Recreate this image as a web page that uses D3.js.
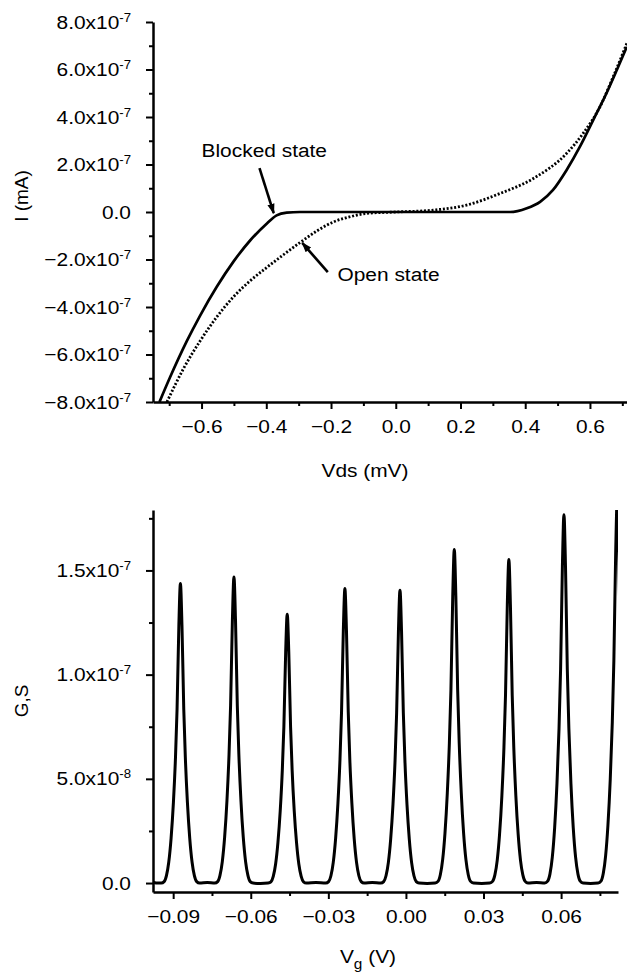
<!DOCTYPE html>
<html><head><meta charset="utf-8">
<script src="https://cdn.jsdelivr.net/npm/d3@7"></script>
<style>
body{margin:0;background:#fff}
svg text{font-family:"Liberation Sans",Arial,sans-serif;fill:#000;font-size:19px}
.sx{transform-box:fill-box;transform:scaleX(1.1)}
.sxr{transform-origin:right center}
.sxc{transform-origin:center}
.sxl{transform-origin:left center}
.domain{stroke:#000;stroke-width:2.5px}
.tick line{stroke:#000;stroke-width:2px}
</style></head><body><svg id="c" width="627" height="974"></svg>
<script>
// ---------- TOP PANEL DATA ----------
const blockedV = [-0.730,-0.697,-0.646,-0.604,-0.553,-0.502,-0.450,-0.398,-0.368,-0.337,-0.296,-0.2,0,0.2,0.353,0.405,0.446,0.486,0.528,0.569,0.610,0.651,0.683,0.714];
const blockedI = [-8.0,-6.95,-5.45,-4.35,-3.15,-2.10,-1.20,-0.48,-0.14,-0.03,0,0,0,0,0,0.16,0.43,0.93,1.77,2.75,3.87,5.0,5.98,6.96]; // x1e-7 mA
const openV = [-0.707,-0.656,-0.604,-0.553,-0.502,-0.450,-0.398,-0.347,-0.296,-0.244,-0.193,-0.141,-0.090,0,0.116,0.219,0.322,0.425,0.528,0.579,0.631,0.672,0.714];
const openI = [-8.0,-6.60,-5.42,-4.42,-3.58,-2.90,-2.33,-1.80,-1.29,-0.80,-0.42,-0.20,-0.06,0,0.08,0.29,0.78,1.41,2.47,3.31,4.43,5.70,7.1]; // x1e-7 mA

const topXTicks = [-0.6,-0.4,-0.2,0,0.2,0.4,0.6];
const topXLabels = ["\u22120.6","\u22120.4","\u22120.2","0.0","0.2","0.4","0.6"];
const topXMinor = [-0.7,-0.5,-0.3,-0.1,0.1,0.3,0.5,0.7];
const topYTicks = [8e-7,6e-7,4e-7,2e-7,0,-2e-7,-4e-7,-6e-7,-8e-7];
const topYMant = ["8.0x10","6.0x10","4.0x10","2.0x10","0.0","\u22122.0x10","\u22124.0x10","\u22126.0x10","\u22128.0x10"];
const topYExp = ["-7","-7","-7","-7","","-7","-7","-7","-7"];
const topYMinor = [7e-7,5e-7,3e-7,1e-7,-1e-7,-3e-7,-5e-7,-7e-7];

// annotations (data coords): text anchor point, arrow tail, arrow tip
const annLabels = ["Blocked state","Open state"];
const annText = [[-0.600,2.32e-7],[-0.180,-2.90e-7]];
const annTail = [[-0.421,1.85e-7],[-0.210,-2.53e-7]];
const annTip  = [[-0.377,-0.05e-7],[-0.289,-1.30e-7]];

// ---------- BOTTOM PANEL DATA ----------
const vg = [-0.0975,-0.0960,
 -0.0946,-0.0935,-0.0926,-0.0917,-0.0908,-0.0899,-0.0891,-0.0885,-0.0878,-0.0872,-0.0866,-0.0859,-0.0853,-0.0845,-0.0836,-0.0827,-0.0818,-0.0809,-0.0798,
 -0.0768,
 -0.0739,-0.0728,-0.0719,-0.0710,-0.0701,-0.0692,-0.0684,-0.0678,-0.0671,-0.0665,-0.0659,-0.0652,-0.0646,-0.0638,-0.0629,-0.0620,-0.0611,-0.0602,-0.0591,
 -0.0562,
 -0.0533,-0.0522,-0.0513,-0.0504,-0.0495,-0.0486,-0.0478,-0.0472,-0.0465,-0.0459,-0.0453,-0.0446,-0.0440,-0.0432,-0.0423,-0.0414,-0.0405,-0.0396,-0.0385,
 -0.0348,
 -0.0310,-0.0299,-0.0290,-0.0281,-0.0272,-0.0263,-0.0255,-0.0249,-0.0242,-0.0236,-0.0230,-0.0223,-0.0217,-0.0209,-0.0200,-0.0191,-0.0182,-0.0173,-0.0162,
 -0.0130,
 -0.0097,-0.0086,-0.0077,-0.0068,-0.0059,-0.0050,-0.0042,-0.0036,-0.0029,-0.0023,-0.0017,-0.0010,-0.0004,0.0004,0.0013,0.0022,0.0031,0.0040,0.0051,
 0.0082,
 0.0113,0.0124,0.0133,0.0142,0.0151,0.0160,0.0168,0.0174,0.0181,0.0187,0.0193,0.0200,0.0206,0.0214,0.0223,0.0232,0.0241,0.0250,0.0261,
 0.0293,
 0.0324,0.0335,0.0344,0.0353,0.0362,0.0371,0.0379,0.0385,0.0392,0.0398,0.0404,0.0411,0.0417,0.0425,0.0434,0.0443,0.0452,0.0461,0.0472,
 0.0505,
 0.0537,0.0548,0.0557,0.0566,0.0575,0.0584,0.0592,0.0598,0.0605,0.0611,0.0617,0.0624,0.0630,0.0638,0.0647,0.0656,0.0665,0.0674,0.0685,
 0.0714,
 0.0743,0.0754,0.0763,0.0772,0.0781,0.0790,0.0798,0.0804,0.0811,0.0817,0.0823,0.0830];
const gS = [0.003,0,
 0,0.007,0.036,0.101,0.216,0.388,0.604,0.833,1.236,1.437,1.236,0.833,0.604,0.388,0.216,0.101,0.036,0.007,0,
 0.002,
 0,0.007,0.037,0.103,0.220,0.396,0.617,0.851,1.262,1.468,1.262,0.851,0.617,0.396,0.220,0.103,0.037,0.007,0,
 -0.002,
 0,0.006,0.032,0.090,0.194,0.348,0.542,0.748,1.109,1.290,1.109,0.748,0.542,0.348,0.194,0.090,0.032,0.006,0,
 0.002,
 0,0.007,0.035,0.099,0.212,0.382,0.593,0.820,1.215,1.413,1.215,0.820,0.593,0.382,0.212,0.099,0.035,0.007,0,
 0.003,
 0,0.007,0.035,0.098,0.211,0.379,0.590,0.815,1.208,1.405,1.208,0.815,0.590,0.379,0.211,0.098,0.035,0.007,0,
 -0.002,
 0,0.008,0.040,0.112,0.240,0.432,0.672,0.928,1.376,1.600,1.376,0.928,0.672,0.432,0.240,0.112,0.040,0.008,0,
 -0.002,
 0,0.008,0.039,0.109,0.233,0.419,0.652,0.900,1.335,1.552,1.335,0.900,0.652,0.419,0.233,0.109,0.039,0.008,0,
 0.002,
 0,0.009,0.044,0.124,0.265,0.477,0.742,1.025,1.520,1.767,1.520,1.025,0.742,0.477,0.265,0.124,0.044,0.009,0,
 -0.002,
 0,0.009,0.046,0.129,0.276,0.497,0.773,1.067,1.582,1.840,1.582,1.067]; // x1e-7 S

const botXTicks = [-0.09,-0.06,-0.03,0,0.03,0.06];
const botXLabels = ["\u22120.09","\u22120.06","\u22120.03","0.00","0.03","0.06"];
const botXMinor = [-0.075,-0.045,-0.015,0.015,0.045,0.075];
const botYTicks = [0,5e-8,1e-7,1.5e-7];
const botYMant = ["0.0","5.0x10","1.0x10","1.5x10"];
const botYExp = ["","-8","-7","-7"];
const botYMinor = [2.5e-8,7.5e-8,1.25e-7,1.75e-7];

// ---------- DRAWING ----------
const svg = d3.select("#c");
const defs = svg.append("defs");
defs.append("marker").attr("id","ah").attr("viewBox","0 0 10 10").attr("refX",9).attr("refY",5)
  .attr("markerWidth",4).attr("markerHeight",4).attr("orient","auto")
  .append("path").attr("d","M0,1.5L10,5L0,8.5Z").attr("fill","#000");

function sci(g, ticks, mant, exp){
  g.selectAll(".tick text").each(function(d){
    const i = ticks.indexOf(d);
    const t = d3.select(this).text(null).attr("class","sx sxr");
    t.append("tspan").text(mant[i]);
    if (exp[i]) t.append("tspan").attr("dy",-7).style("font-size","12px").text(exp[i]);
  });
}
function xlab(g, ticks, labels){
  g.selectAll(".tick text").attr("class","sx sxc").text(d => labels[ticks.indexOf(d)]);
}
function cleanAxis(g){ g.attr("font-size",null).attr("font-family",null); }

// ===== top panel =====
const xT = d3.scaleLinear().domain([-0.75,0.716]).range([153,627.5]);
const yT = d3.scaleLinear().domain([-8e-7,8e-7]).range([402,22]);
defs.append("clipPath").attr("id","clipT").append("rect")
  .attr("x",xT.range()[0]).attr("y",yT.range()[1]-4).attr("width",xT.range()[1]-xT.range()[0]).attr("height",yT.range()[0]-yT.range()[1]+4);

const lineT = d3.line().x(d=>xT(d[0])).y(d=>yT(d[1])).curve(d3.curveMonotoneX);
const blocked = blockedV.map((v,i)=>[v,blockedI[i]*1e-7]);
const open = openV.map((v,i)=>[v,openI[i]*1e-7]);
const gT = svg.append("g").attr("clip-path","url(#clipT)");
gT.append("path").datum(open).attr("d",lineT).attr("fill","none").attr("stroke","#000")
  .attr("stroke-width",2.8).attr("stroke-dasharray","2,1.8");
gT.append("path").datum(blocked).attr("d",lineT).attr("fill","none").attr("stroke","#000")
  .attr("stroke-width",2.7);

// axes
svg.append("g").attr("transform",`translate(0,${yT.range()[0]})`)
  .call(d3.axisBottom(xT).tickValues(topXMinor).tickSize(4).tickFormat(()=>"").tickSizeOuter(0))
  .call(g=>g.select(".domain").remove()).call(cleanAxis);
const axXT = svg.append("g").attr("transform",`translate(0,${yT.range()[0]})`)
  .call(d3.axisBottom(xT).tickValues(topXTicks).tickSize(7).tickPadding(11).tickSizeOuter(0))
  .call(cleanAxis);
xlab(axXT, topXTicks, topXLabels);
svg.append("g").attr("transform",`translate(${xT.range()[0]},0)`)
  .call(d3.axisLeft(yT).tickValues(topYMinor).tickSize(4).tickFormat(()=>"").tickSizeOuter(0))
  .call(g=>g.select(".domain").remove()).call(cleanAxis);
const axYT = svg.append("g").attr("transform",`translate(${xT.range()[0]},0)`)
  .call(d3.axisLeft(yT).tickValues(topYTicks).tickSize(7).tickPadding(15).tickSizeOuter(0))
  .call(cleanAxis);
sci(axYT, topYTicks, topYMant, topYExp);

svg.append("text").attr("class","sx sxc").attr("x",365).attr("y",477).attr("text-anchor","middle").text("Vds (mV)");
svg.append("g").attr("transform","translate(28,196) rotate(-90)")
  .append("text").attr("text-anchor","middle").text("I (mA)");

// annotations
annLabels.forEach((lab,i)=>{
  svg.append("text").attr("class","sx sxl").attr("x",xT(annText[i][0])).attr("y",yT(annText[i][1])).text(lab);
  svg.append("line").attr("x1",xT(annTail[i][0])).attr("y1",yT(annTail[i][1]))
    .attr("x2",xT(annTip[i][0])).attr("y2",yT(annTip[i][1]))
    .attr("stroke","#000").attr("stroke-width",2.6).attr("marker-end","url(#ah)");
});

// ===== bottom panel =====
const xB = d3.scaleLinear().domain([-0.0978,0.082]).range([153,618]);
const yB = d3.scaleLinear().domain([-0.43e-8,1.79e-7]).range([892,510]);
defs.append("clipPath").attr("id","clipB").append("rect")
  .attr("x",xB.range()[0]).attr("y",yB.range()[1]).attr("width",xB.range()[1]-xB.range()[0]).attr("height",yB.range()[0]-yB.range()[1]);
const lineB = d3.line().x(d=>xB(d[0])).y(d=>yB(d[1])).curve(d3.curveMonotoneX);
const gData = vg.map((v,i)=>[v,gS[i]*1e-7]);
svg.append("g").attr("clip-path","url(#clipB)")
  .append("path").datum(gData).attr("d",lineB).attr("fill","none").attr("stroke","#000")
  .attr("stroke-width",3).attr("stroke-linejoin","round");

svg.append("g").attr("transform",`translate(0,${yB.range()[0]})`)
  .call(d3.axisBottom(xB).tickValues(botXMinor).tickSize(4).tickFormat(()=>"").tickSizeOuter(0))
  .call(g=>g.select(".domain").remove()).call(cleanAxis);
const axXB = svg.append("g").attr("transform",`translate(0,${yB.range()[0]})`)
  .call(d3.axisBottom(xB).tickValues(botXTicks).tickSize(7).tickPadding(11).tickSizeOuter(0))
  .call(cleanAxis);
xlab(axXB, botXTicks, botXLabels);
svg.append("g").attr("transform",`translate(${xB.range()[0]},0)`)
  .call(d3.axisLeft(yB).tickValues(botYMinor).tickSize(4).tickFormat(()=>"").tickSizeOuter(0))
  .call(g=>g.select(".domain").remove()).call(cleanAxis);
const axYB = svg.append("g").attr("transform",`translate(${xB.range()[0]},0)`)
  .call(d3.axisLeft(yB).tickValues(botYTicks).tickSize(7).tickPadding(15).tickSizeOuter(0))
  .call(cleanAxis);
sci(axYB, botYTicks, botYMant, botYExp);

const vt = svg.append("text").attr("class","sx sxc").attr("x",368).attr("y",963).attr("text-anchor","middle");
vt.append("tspan").text("V");
vt.append("tspan").attr("dy",6).style("font-size","14px").text("g");
vt.append("tspan").attr("dy",-6).text(" (V)");
svg.append("g").attr("transform","translate(28,701) rotate(-90)")
  .append("text").attr("text-anchor","middle").text("G,S");
</script></body></html>
